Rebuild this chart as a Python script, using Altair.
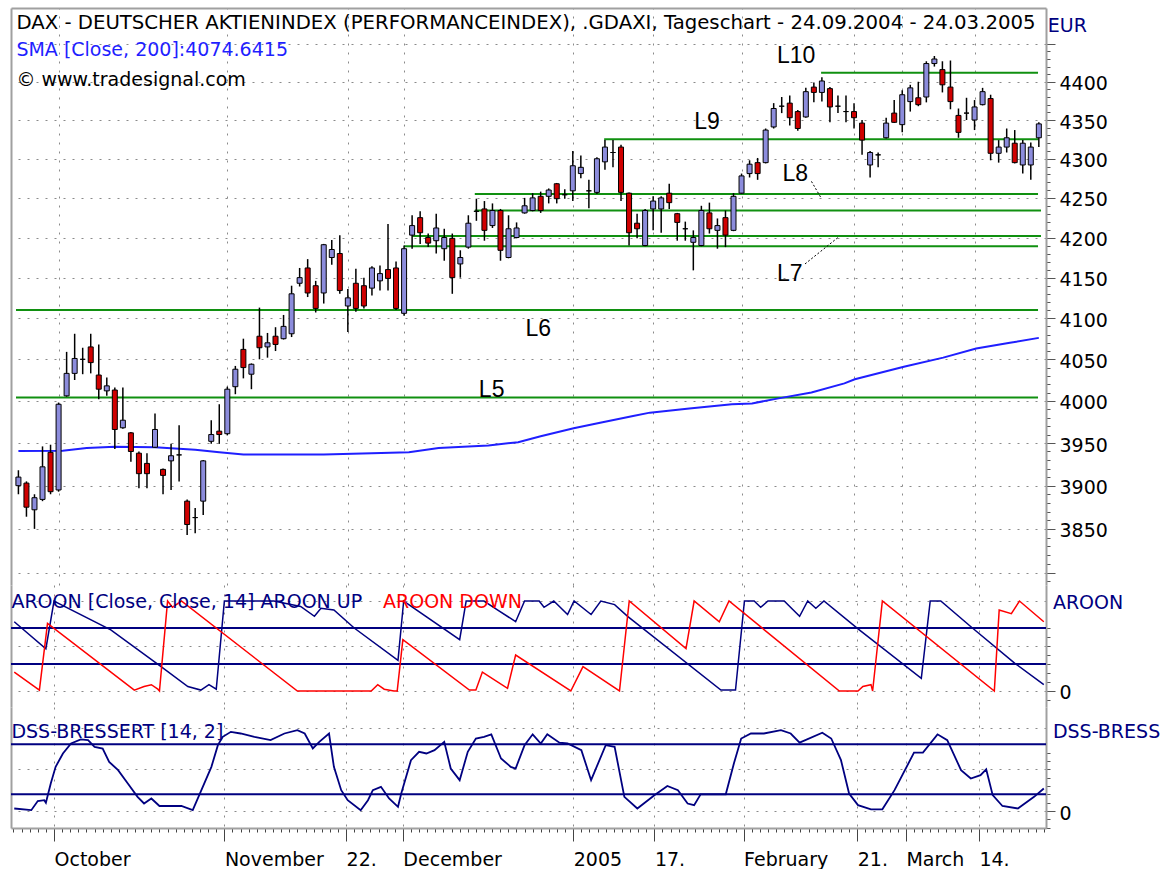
import altair as alt
import pandas as pd

# ---------------- data ----------------
open_ = [3900,3903,3872,3884,3939,3895,4006,4033,4050,4065,
         4031,4012,4013,3968,3962,3938,3926,3945,3919,3929,
         3936,3882,3863,3882,3952,3964,3961,4017,4062,4032,
         4078,4065,4078,4075,4081,4143,4162,4140,4131,4175,
         4180,4115,4143,4140,4137,4146,4160,4162,4106,4203,
         4225,4200,4196,4186,4199,4167,4188,4233,4236,4215,
         4234,4175,4200,4231,4234,4252,4252,4268,4254,4259,
         4281,4259,4257,4296,4308,4315,4256,4218,4190,4236,
         4236,4256,4230,4211,4194,4190,4231,4209,4225,4209,
         4256,4281,4295,4295,4341,4368,4372,4361,4354,4393,
         4386,4391,4368,4361,4361,4346,4292,4305,4327,4359,
         4344,4374,4379,4380,4424,4416,4393,4356,4359,4350,
         4370,4378,4307,4315,4320,4292,4292,4327]
high = [3918,3905,3890,3946,3948,3998,4059,4081,4064,4081,
        4068,4028,4016,4016,3963,3940,3938,3985,3920,3949,
        3971,3884,3874,3930,3977,3996,4017,4042,4075,4045,
        4113,4082,4089,4104,4140,4162,4173,4146,4192,4197,
        4203,4136,4161,4150,4164,4165,4217,4170,4190,4228,
        4233,4205,4230,4211,4205,4184,4228,4249,4246,4243,
        4236,4228,4219,4250,4256,4258,4262,4269,4261,4310,
        4304,4273,4302,4324,4324,4318,4257,4230,4236,4252,
        4252,4268,4231,4220,4209,4240,4244,4224,4234,4256,
        4281,4298,4301,4339,4372,4380,4382,4363,4392,4399,
        4406,4393,4382,4382,4372,4350,4310,4308,4353,4376,
        4389,4396,4400,4427,4434,4427,4428,4365,4379,4376,
        4392,4383,4324,4339,4337,4324,4321,4347]
low = [3890,3864,3850,3882,3890,3893,4005,4025,4032,4033,
       4002,4006,3943,3967,3928,3897,3897,3944,3890,3895,
       3905,3843,3845,3866,3949,3949,3959,4008,4027,4014,
       4050,4052,4060,4074,4077,4139,4126,4107,4118,4166,
       4130,4083,4108,4112,4128,4134,4134,4110,4103,4186,
       4192,4188,4180,4171,4130,4150,4186,4221,4196,4212,
       4171,4174,4199,4230,4233,4231,4243,4243,4249,4246,
       4275,4237,4255,4286,4289,4246,4190,4199,4189,4209,
       4206,4236,4196,4196,4159,4189,4205,4186,4188,4208,
       4255,4276,4273,4294,4339,4359,4343,4336,4353,4373,
       4374,4347,4359,4347,4339,4305,4276,4289,4326,4346,
       4334,4361,4368,4373,4420,4386,4364,4327,4350,4337,
       4369,4298,4295,4308,4294,4281,4273,4315]
close = [3910,3875,3886,3922,3893,3996,4033,4051,4050,4046,
         4014,4018,3966,3977,3940,3914,3914,3966,3912,3935,
         3936,3855,3863,3929,3960,3960,4014,4038,4040,4044,
         4064,4070,4068,4090,4130,4150,4131,4112,4191,4185,
         4134,4125,4112,4115,4162,4155,4149,4112,4186,4215,
         4206,4193,4212,4200,4150,4175,4218,4233,4209,4234,
         4184,4211,4212,4240,4250,4234,4260,4249,4254,4291,
         4289,4259,4300,4315,4308,4257,4206,4211,4234,4246,
         4250,4244,4219,4211,4200,4234,4211,4215,4203,4252,
         4278,4293,4281,4337,4365,4368,4353,4339,4387,4386,
         4401,4367,4368,4361,4353,4324,4308,4305,4346,4347,
         4383,4392,4370,4424,4430,4396,4374,4334,4359,4367,
         4387,4307,4315,4327,4295,4320,4315,4345]
bar_idx = list(range(len(close)))

sma_x = [0, 5.5, 8.5, 12, 17, 22, 25, 28, 38, 44, 48.6, 52.3, 58.5, 62.2, 65.0,
         69.1, 72.4, 76.5, 78.6, 83.5, 88.8, 91.3, 94.6, 98.7, 102.8, 104.1,
         110.2, 115.1, 119.2, 123.4, 127.0]
sma_v = [3940.5, 3941, 3944, 3945.5, 3945, 3942, 3939, 3936.5, 3936.5, 3938, 3939,
         3944, 3947, 3951, 3958, 3967.5, 3974, 3982, 3986, 3991, 3996, 3997, 4003,
         4010, 4021, 4026, 4041, 4052, 4063, 4070, 4076]

level_price = [4004, 4110, 4189, 4202, 4234, 4255, 4325, 4412]
level_start = [-0.3, -0.3, 48.0, 49.0, 56.8, 56.8, 72.9, 99.9]
level_end = [126.9, 126.9, 126.9, 127.27, 127.27, 126.9, 126.9, 126.9]

level_text = ["L5", "L6", "L7", "L8", "L9", "L10"]
level_text_x = [58.9, 64.7, 96.0, 96.7, 85.7, 96.8]
level_text_p = [4013, 4087, 4154, 4280, 4348, 4434]
leader_x1 = [97.9, 98.7]
leader_p1 = [4167, 4271]
leader_x2 = [102.0, 99.9]
leader_p2 = [4200, 4250]

aup_x = [0.1, 4.0, 5.0, 12.0, 18.2, 21.5, 23.1, 24.1, 25.0, 26.0, 32.1, 35.4, 37.1,
         37.9, 39.5, 42.0, 47.4, 48.1, 55.0, 55.8, 58.0, 59.7, 61.9, 63.0, 64.8,
         65.4, 66.6, 68.3, 69.1, 71.2, 72.4, 74.1, 75.7, 87.2, 89.0, 90.1, 91.3,
         92.1, 93.0, 95.0, 96.9, 97.9, 98.9, 99.9, 104.1, 111.9, 113.0, 114.3,
         118.2, 123.4, 127.0]
aup_v = [77, 47, 100, 68, 27, 5, 1, 7, 2, 100, 100, 94, 83, 92, 90, 70, 34, 100, 57,
         100, 100, 90, 77, 100, 100, 93, 100, 85, 100, 85, 100, 96, 83, 1, 1, 100,
         100, 93, 100, 100, 83, 100, 92, 100, 69, 14, 100, 100, 70, 31, 7]
adn_x = [0.1, 3.2, 4.2, 14.9, 16.1, 17.0, 17.8, 18.0, 19.0, 19.6, 20.7, 35.0, 44.1,
         44.9, 45.7, 46.9, 47.3, 48.0, 56.2, 57.0, 57.8, 60.9, 61.9, 68.7, 70.2,
         74.7, 75.9, 82.9, 83.9, 87.0, 88.2, 101.8, 104.1, 104.7, 105.7, 105.9,
         107.1, 120.9, 121.5, 123.0, 124.0, 127.0]
adn_v = [21, 1, 75, 1, 5, 7, 2, 0, 100, 93, 100, 0, 0, 7, 2, 0, 0, 57, 1, 1, 21, 3,
         40, 0, 27, 0, 100, 47, 100, 77, 100, 0, 0, 5, 7, 0, 100, 0, 90, 86, 100, 77]

dss_x = [0.1, 2.2, 3.0, 3.8, 4.0, 4.6, 5.2, 6.1, 7.1, 8.3,
         9.2, 10.0, 11.0, 11.8, 12.9, 14.1, 15.3, 16.1, 17.0, 18.0,
         20.7, 22.1, 22.9, 24.4, 25.2, 25.8, 26.8, 28.0, 29.7, 31.7,
         33.4, 35.0, 35.9, 36.9, 37.7, 38.9, 39.5, 40.4, 41.2, 42.8,
         43.7, 44.3, 45.3, 46.3, 47.4, 47.8, 49.0, 50.0, 50.9, 51.9,
         53.1, 53.9, 55.0, 56.0, 57.0, 58.0, 58.9, 60.1, 61.3, 61.9,
         63.0, 64.0, 65.0, 65.8, 67.3, 68.3, 70.0, 71.2, 73.0, 74.1,
         75.3, 76.9, 79.0, 80.6, 81.9, 83.1, 83.9, 84.7, 87.8, 88.8,
         89.7, 90.9, 92.5, 94.6, 95.8, 96.9, 99.7, 100.8, 102.0, 103.0,
         104.1, 105.7, 107.1, 108.6, 111.0, 112.1, 113.9, 115.1, 116.8, 118.0,
         119.2, 119.9, 120.7, 121.9, 123.8, 125.8, 127.0]
dss_v = [3, 1, 12, 13, 10, 33, 53, 69, 81, 86,
         85, 77, 75, 59, 49, 33, 17, 9, 15, 6,
         6, 1, 19, 53, 79, 89, 95, 93, 89, 85,
         93, 97, 93, 75, 83, 93, 53, 25, 13, 1,
         13, 25, 29, 15, 5, 21, 61, 71, 69, 73,
         83, 51, 37, 71, 87, 89, 92, 63, 53, 51,
         79, 92, 81, 92, 82, 81, 73, 37, 79, 77,
         17, 3, 19, 30, 25, 9, 7, 20, 20, 57,
         87, 93, 93, 97, 93, 82, 94, 87, 61, 21,
         7, 2, 2, 25, 70, 70, 92, 85, 49, 39,
         43, 50, 19, 6, 3, 17, 27]

aroon_levels = [30, 70]
dss_levels = [20, 80]

tick_idx = [5, 26, 41, 48, 69, 79, 90, 104, 110, 119]
tick_lab = ["October", "November", "22.", "December", "2005", "17.",
            "February", "21.", "March", "14."]

# ---------------- style ----------------
FONT = "DejaVu Sans"
FS = 19
NAVY = "#000080"
FRAME = "#a0a0a0"
GRIDC = "#8a8a8a"
UP = "#8c8cdc"
DN = "#d00000"
GREEN = "#109010"
SMA_C = "#1f1fff"

W = 1035
H_MAIN, H_AR, H_DSS = 577, 122, 121

xs = alt.Scale(domain=[-0.3, 127.27], nice=False, zero=False)
ys_main = alt.Scale(type="log", domain=[3786, 4498], nice=False)
ys_ar = alt.Scale(domain=[-17.8, 117.8], nice=False, zero=False)
ys_dss = alt.Scale(domain=[-20.4, 124.8], nice=False, zero=False)


def cond(test, a, b):
    return {"condition": {"test": test, "value": a}, "value": b}


grid_kw = dict(gridColor=GRIDC, gridDash=[2, 7], gridWidth=1)

left_axis = alt.Axis(orient="left", labels=False, ticks=False, grid=False,
                     domain=True, domainColor=FRAME, domainWidth=2, title=None)
top_axis = alt.Axis(orient="top", values=tick_idx, labels=False, ticks=False,
                    domain=True, domainColor=FRAME, domainWidth=2, grid=True,
                    title=None, **grid_kw)
mid_x_axis = alt.Axis(orient="bottom", values=tick_idx, labels=False, ticks=False,
                      domain=False, grid=True, title=None, **grid_kw)

is_major = "indexof([" + ",".join(str(v) for v in tick_idx) + "], datum.value) >= 0"
lab_expr = "''"
for v, t in reversed(list(zip(tick_idx, tick_lab))):
    lab_expr = f"datum.value === {v} ? '{t}' : ({lab_expr})"
bottom_axis = alt.Axis(orient="bottom", values=bar_idx, labelExpr=lab_expr,
                       labelAlign="left", labelBaseline="top", labelPadding=9,
                       labelOverlap=False, labelFlush=False,
                       tickSize=cond(is_major, 13, 4),
                       tickColor="#444", tickWidth=1, grid=True,
                       gridOpacity=cond(is_major, 1, 0), domain=True,
                       domainColor=FRAME, domainWidth=2, title=None, **grid_kw)

maj50 = "datum.value % 50 === 0"
main_right = alt.Axis(orient="right", values=list(range(3790, 4451, 10)),
                      labelExpr="datum.value % 50 === 0 && datum.value >= 3850 && datum.value <= 4400 ? '' + datum.value : ''",
                      labelOverlap=False, tickSize=cond(maj50, 9, 4), tickColor="#555",
                      labelPadding=4, labelOffset=2, grid=True,
                      gridOpacity=cond(maj50, 1, 0),
                      domain=True, domainColor=FRAME, domainWidth=2, title=None, **grid_kw)


def sub_right(vals):
    return alt.Axis(orient="right", values=vals,
                    labelExpr="datum.value === 0 ? '0' : ''", labelOverlap=False,
                    tickOpacity=cond("datum.value <= 70", 1, 0),
                    tickSize=cond("datum.value === 0", 9, 4), tickColor="#555",
                    labelPadding=4, labelOffset=2, grid=True,
                    gridOpacity=cond(maj50, 1, 0),
                    domain=True, domainColor=FRAME, domainWidth=2, title=None, **grid_kw)


# ---------------- main price pane ----------------
cdf = pd.DataFrame({"i": bar_idx, "o": open_, "h": high, "l": low, "c": close})
lev = pd.DataFrame({"p": level_price, "s": level_start, "e": level_end})

levels = alt.Chart(lev).mark_rule(color=GREEN, strokeWidth=2).encode(
    x=alt.X("s:Q", scale=xs, axis=top_axis), x2="e:Q",
    y=alt.Y("p:Q", scale=ys_main, axis=left_axis))
sma = alt.Chart(pd.DataFrame({"i": sma_x, "v": sma_v})).mark_line(
    color=SMA_C, strokeWidth=2).encode(
    x=alt.X("i:Q", scale=xs, axis=None), y=alt.Y("v:Q", scale=ys_main, axis=None))
wick = alt.Chart(cdf).mark_rule(color="black", strokeWidth=1.5).encode(
    x=alt.X("i:Q", scale=xs, axis=None),
    y=alt.Y("l:Q", scale=ys_main, axis=main_right), y2="h:Q")
body = alt.Chart(cdf).mark_bar(size=5, stroke="black", strokeWidth=1).encode(
    x=alt.X("i:Q", scale=xs, axis=None),
    y=alt.Y("o:Q", scale=ys_main, axis=None), y2="c:Q",
    color=alt.condition("datum.c >= datum.o", alt.value(UP), alt.value(DN)))

hdr = pd.DataFrame({
    "t": ["DAX - DEUTSCHER AKTIENINDEX (PERFORMANCEINDEX), .GDAXI, Tageschart - 24.09.2004 - 24.03.2005",
          "SMA [Close, 200]:4074.6415", "\u00a9 www.tradesignal.com", "EUR"],
    "i": [-0.25, -0.25, -0.25, 128.12],
    "p": [4478, 4442, 4402, 4474],
    "fs": [19.7, 19, 19, 19],
    "col": ["black", SMA_C, "black", NAVY]})
hdr_txt = alt.Chart(hdr).mark_text(align="left", baseline="middle", font=FONT).encode(
    x=alt.X("i:Q", scale=xs, axis=None), y=alt.Y("p:Q", scale=ys_main, axis=None),
    text="t:N", color=alt.Color("col:N", scale=None),
    size=alt.Size("fs:Q", scale=None))
lv_txt = alt.Chart(pd.DataFrame({"t": level_text, "i": level_text_x, "p": level_text_p})
                   ).mark_text(align="center", baseline="middle", font="Liberation Sans",
                               fontSize=23, color="black").encode(
    x=alt.X("i:Q", scale=xs, axis=None), y=alt.Y("p:Q", scale=ys_main, axis=None),
    text="t:N")
leaders = alt.Chart(pd.DataFrame({"a": leader_x1, "pa": leader_p1, "b": leader_x2,
                                  "pb": leader_p2})).mark_rule(
    color="black", strokeWidth=1, strokeDash=[2, 2]).encode(
    x=alt.X("a:Q", scale=xs, axis=None), x2="b:Q",
    y=alt.Y("pa:Q", scale=ys_main, axis=None), y2="pb:Q")

main = alt.layer(levels, sma, wick, body, hdr_txt, lv_txt, leaders).properties(
    width=W, height=H_MAIN).resolve_axis(x="independent", y="independent")

# ---------------- AROON pane ----------------
ar_lev = alt.Chart(pd.DataFrame({"v": aroon_levels})).mark_rule(
    color=NAVY, strokeWidth=2).encode(y=alt.Y("v:Q", scale=ys_ar, axis=left_axis))
ar_up = alt.Chart(pd.DataFrame({"i": aup_x, "v": aup_v})).mark_line(
    color=NAVY, strokeWidth=1.5).encode(
    x=alt.X("i:Q", scale=xs, axis=mid_x_axis),
    y=alt.Y("v:Q", scale=ys_ar, axis=sub_right(list(range(-10, 101, 10)))))
ar_dn = alt.Chart(pd.DataFrame({"i": adn_x, "v": adn_v})).mark_line(
    color="#ff0000", strokeWidth=1.5).encode(
    x=alt.X("i:Q", scale=xs, axis=None), y=alt.Y("v:Q", scale=ys_ar, axis=None))
ar_t = pd.DataFrame({"t": ["AROON [Close, Close, 14] AROON UP", "AROON DOWN", "AROON"],
                     "i": [-0.25, 45.55, 128.12], "v": [99, 99, 98],
                     "col": [NAVY, "#ff0000", NAVY]})
ar_txt = alt.Chart(ar_t).mark_text(align="left", baseline="middle", font=FONT,
                                   fontSize=FS).encode(
    x=alt.X("i:Q", scale=xs, axis=None), y=alt.Y("v:Q", scale=ys_ar, axis=None),
    text="t:N", color=alt.Color("col:N", scale=None))
aroon = alt.layer(ar_lev, ar_up, ar_dn, ar_txt).properties(
    width=W, height=H_AR).resolve_axis(x="independent", y="independent")

# ---------------- DSS pane ----------------
ds_lev = alt.Chart(pd.DataFrame({"v": dss_levels})).mark_rule(
    color=NAVY, strokeWidth=2).encode(y=alt.Y("v:Q", scale=ys_dss, axis=left_axis))
ds_line = alt.Chart(pd.DataFrame({"i": dss_x, "v": dss_v})).mark_line(
    color=NAVY, strokeWidth=1.8).encode(
    x=alt.X("i:Q", scale=xs, axis=bottom_axis),
    y=alt.Y("v:Q", scale=ys_dss, axis=sub_right(list(range(-20, 101, 10)))))
ds_txt = alt.Chart(pd.DataFrame({"t": ["DSS-BRESSERT [14, 2]"], "i": [-0.25], "v": [95]})
                   ).mark_text(align="left", baseline="middle", font=FONT, fontSize=FS,
                               color=NAVY).encode(
    x=alt.X("i:Q", scale=xs, axis=None), y=alt.Y("v:Q", scale=ys_dss, axis=None),
    text="t:N")
ds_rt = alt.Chart(pd.DataFrame({"t": ["DSS-BRESSERT"], "i": [128.12], "v": [95]})
                  ).mark_text(align="left", baseline="middle", font=FONT, fontSize=FS,
                              color=NAVY, limit=117, ellipsis=" ").encode(
    x=alt.X("i:Q", scale=xs, axis=None), y=alt.Y("v:Q", scale=ys_dss, axis=None),
    text="t:N")
dss = alt.layer(ds_lev, ds_line, ds_txt, ds_rt).properties(
    width=W, height=H_DSS).resolve_axis(x="independent", y="independent")

chart = alt.vconcat(main, aroon, dss, spacing=0, bounds="flush").properties(
    padding={"left": 10, "top": 8, "right": 0, "bottom": 0}, background="white"
).configure_view(stroke=None).configure_axis(
    labelFont=FONT, labelFontSize=FS, labelColor="black")

chart.save("out.html", embed_options={"renderer": "svg", "actions": False})
